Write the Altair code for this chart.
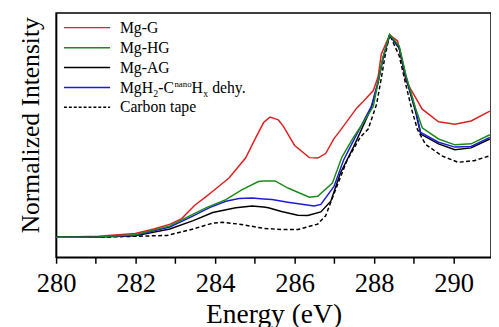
import altair as alt
import pandas as pd

# ---- data ----
E_red = [280, 281.06, 281.99, 282.46, 282.87, 283.16, 283.48, 283.78, 283.94, 284.35, 284.77, 285.01,
         285.22, 285.38, 285.59, 285.71, 286.0, 286.37, 286.58, 286.78, 286.99, 287.16, 287.56, 287.73,
         287.98, 288.1, 288.18, 288.39, 288.59, 288.8, 289.21, 289.62, 290.03, 290.44, 290.91]
I_red = [0, 0.005, 0.019, 0.041, 0.065, 0.092, 0.157, 0.202, 0.227, 0.292, 0.392, 0.487,
         0.566, 0.593, 0.579, 0.55, 0.453, 0.393, 0.391, 0.413, 0.487, 0.53, 0.637, 0.671,
         0.724, 0.792, 0.903, 0.998, 0.969, 0.772, 0.632, 0.57, 0.558, 0.574, 0.622]

E_green = [280, 281.06, 281.99, 282.86, 283.45, 283.78, 284.27, 284.68, 285.09, 285.22, 285.51, 285.83,
           286.37, 286.58, 286.95, 287.19, 287.48, 287.73, 287.98, 288.10, 288.22, 288.39, 288.63,
           288.80, 289.04, 289.21, 289.62, 290.03, 290.44, 290.91]
I_green = [0, 0.002, 0.012, 0.056, 0.114, 0.146, 0.186, 0.235, 0.275, 0.278, 0.278, 0.243,
           0.198, 0.202, 0.267, 0.396, 0.493, 0.566, 0.646, 0.767, 0.889, 1.0, 0.945,
           0.8, 0.638, 0.54, 0.485, 0.456, 0.461, 0.506]

E_black = [280, 281.06, 281.99, 282.86, 283.45, 283.94, 284.52, 284.93, 285.22, 285.34, 285.67, 286.08,
           286.33, 286.66, 286.91, 287.15, 287.48, 287.93, 288.10, 288.22, 288.39, 288.63, 288.80,
           289.04, 289.17, 289.62, 290.03, 290.44, 290.91]
I_black = [0, 0.001, 0.007, 0.041, 0.082, 0.122, 0.146, 0.154, 0.149, 0.146, 0.127, 0.109,
           0.108, 0.125, 0.178, 0.316, 0.445, 0.639, 0.763, 0.879, 0.997, 0.932, 0.787,
           0.622, 0.509, 0.461, 0.432, 0.441, 0.485]

E_blue = [280, 281.06, 281.99, 282.86, 283.45, 283.86, 284.27, 284.60, 284.93, 285.22, 285.43, 285.83,
          286.49, 286.66, 286.99, 287.23, 287.48, 287.93, 288.10, 288.22, 288.39, 288.63, 288.80,
          289.04, 289.17, 289.62, 290.03, 290.44, 290.91]
I_blue = [0, 0.002, 0.010, 0.051, 0.106, 0.146, 0.178, 0.191, 0.194, 0.189, 0.186, 0.173,
          0.154, 0.162, 0.251, 0.380, 0.477, 0.646, 0.767, 0.883, 0.999, 0.937, 0.792,
          0.632, 0.517, 0.469, 0.445, 0.448, 0.493]

E_tape = [280, 281.06, 281.99, 282.79, 283.45, 283.94, 284.19, 284.60, 285.22, 285.67, 286.08, 286.58,
          286.78, 287.03, 287.32, 287.65, 287.85, 288.06, 288.18, 288.27, 288.39, 288.63, 288.80,
          288.96, 289.09, 289.29, 289.70, 290.11, 290.52, 290.91]
I_tape = [0, 0, 0.005, 0.009, 0.041, 0.070, 0.074, 0.065, 0.044, 0.038, 0.038, 0.065,
          0.106, 0.235, 0.380, 0.493, 0.534, 0.655, 0.784, 0.889, 0.999, 0.896, 0.751,
          0.620, 0.532, 0.459, 0.402, 0.370, 0.378, 0.402]

series = ["Mg-G", "Mg-HG", "Mg-AG", "MgH2-CnanoHx dehy.", "Carbon tape"]
colors = ["#e02020", "#1a8a1a", "#000000", "#1c1cd6", "#000000"]
x_ticks = list(range(280, 292))

FONT = "'Liberation Serif', 'Times New Roman', 'DejaVu Serif', serif"

x_enc = alt.X(
    "E:Q",
    scale=alt.Scale(domain=[280, 290.94], nice=False, zero=False),
    axis=alt.Axis(
        values=x_ticks,
        labelExpr="datum.value % 2 == 0 ? datum.label : ''",
        title="Energy (eV)",
        grid=False,
        tickSize=6,
        tickWidth=1.5,
        tickColor="black",
        domainColor="black",
        domainWidth=1.5,
        labelFont=FONT,
        labelFontSize=27,
        labelColor="black",
        labelPadding=8,
        labelFlush=False,
        labelOverlap=False,
        titleFont=FONT,
        titleFontSize=28,
        titleFontWeight="normal",
        titleColor="black",
        titleY=66,
        titleBaseline="alphabetic",
    ),
)
y_enc = alt.Y(
    "I:Q",
    scale=alt.Scale(domain=[-0.099, 1.107], nice=False, zero=False),
    axis=alt.Axis(
        title="Normalized Intensity",
        ticks=False,
        labels=False,
        grid=False,
        domainColor="black",
        domainWidth=1.5,
        titleFont=FONT,
        titleFontSize=26,
        titleFontWeight="normal",
        titleColor="black",
        titleX=-18,
        titleY=114,
        titleAngle=270,
        titleAlign="center",
        titleBaseline="alphabetic",
    ),
)


def line_layer(E, I, color, dash=None):
    df = pd.DataFrame({"E": E, "I": I})
    kw = dict(color=color, strokeWidth=1.5, clip=True)
    if dash is not None:
        kw["strokeDash"] = dash
    return alt.Chart(df).mark_line(**kw).encode(x=x_enc, y=y_enc)


lines = [
    line_layer(E_red, I_red, colors[0]),
    line_layer(E_tape, I_tape, colors[4], [4, 2.5]),
    line_layer(E_black, I_black, colors[2]),
    line_layer(E_blue, I_blue, colors[3]),
    line_layer(E_green, I_green, colors[1]),
]

# ---- legend ----
one = pd.DataFrame({"a": [0]})
row_y = [15, 35.5, 55.7, 76, 96]
legend = []
for i, (name, c) in enumerate(zip(series, colors)):
    kw = dict(color=c, strokeWidth=1.5)
    if name == "Carbon tape":
        kw["strokeDash"] = [3, 2]
    legend.append(
        alt.Chart(one).mark_rule(**kw).encode(
            x=alt.value(8), x2=alt.value(55), y=alt.value(row_y[i])
        )
    )


def txt(t, x, y, size=16):
    return alt.Chart(one).mark_text(
        text=t, align="left", baseline="alphabetic", font=FONT, fontSize=size, color="black"
    ).encode(x=alt.value(x), y=alt.value(y))


for i, name in enumerate(series):
    base = row_y[i] + 5.3
    if i == 3:
        legend += [
            txt("MgH", 65, base),
            txt("2", 99, base + 4, 10),
            txt("-C", 104, base),
            txt("nano", 120.5, base - 6, 9),
            txt("H", 138, base),
            txt("x", 150, base + 4, 10),
            txt("dehy.", 159, base),
        ]
    else:
        legend.append(txt(name, 65, base))

chart = alt.layer(*lines, *legend).properties(
    width=443,
    height=249,
    autosize=alt.AutoSizeParams(type="none"),
    padding={"left": 49, "top": 2, "right": 0, "bottom": 70},
).configure_view(stroke="black", strokeWidth=1.5)

chart.save("out.html", embed_options={"renderer": "svg", "actions": False})
